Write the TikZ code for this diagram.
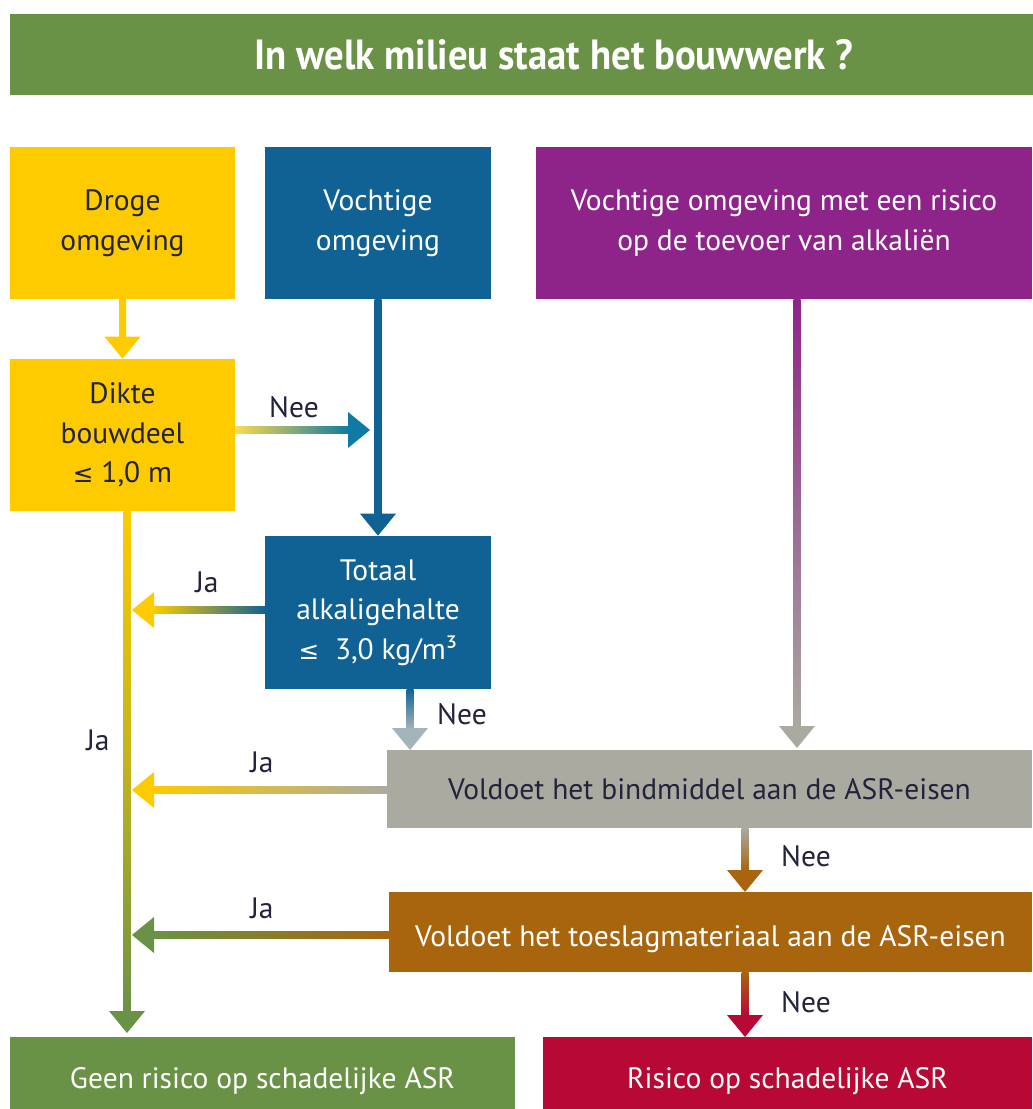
\documentclass[tikz,border=0pt]{standalone}
\usepackage{fontspec}
\setmainfont{PT Sans}
\newfontfamily\symfont{DejaVu Sans}
\usetikzlibrary{positioning,calc}
\definecolor{asrGreen}{RGB}{106,146,70}
\definecolor{asrYellow}{RGB}{253,203,0}
\definecolor{asrBlue}{RGB}{17,98,148}
\definecolor{asrPurple}{RGB}{142,36,138}
\definecolor{asrGrey}{RGB}{170,170,160}
\definecolor{asrBrown}{RGB}{168,101,14}
\definecolor{asrRed}{RGB}{183,9,52}
\definecolor{asrInk}{RGB}{35,35,60}

\tikzset{
  box/.style={inner sep=0pt, align=center, text=white, font=\fontsize{16.8}{22.5}\selectfont},
  lbl/.style={text=asrInk, font=\fontsize{16.8}{22.5}\selectfont}
}
% shaded arrows: shaft + head
\newcommand{\downarrowg}[4]{%
  \shade[top color=#3, bottom color=#4] ($(#1)+(-3.5,0)$) rectangle ($(#2)+(3.5,-21)$);
  \fill[#4] (#2) -- ++(-18,-22) -- ++(36,0) -- cycle;}
\newcommand{\rightarrowg}[4]{%
  \shade[left color=#3, right color=#4] ($(#1)+(0,-3.5)$) rectangle ($(#2)+(-21,3.5)$);
  \fill[#4] (#2) -- ++(-22,-18) -- ++(0,36) -- cycle;}
\newcommand{\leftarrowg}[4]{%
  \shade[left color=#4, right color=#3] ($(#2)+(21,-3.5)$) rectangle ($(#1)+(0,3.5)$);
  \fill[#4] (#2) -- ++(22,-18) -- ++(0,36) -- cycle;}
\newcommand{\maxle}{{\symfont\fontsize{14}{20}\selectfont ≤}}

\begin{document}
\begin{tikzpicture}[x=0.02cm, y=-0.02cm]
  \useasboundingbox (0,0) rectangle (1032,1109);

  % Title (bar runs off the right edge)
  \node[box, fill=asrGreen, minimum width=21.76cm, minimum height=1.62cm,
        font=\bfseries\fontsize{24}{28}\selectfont] (title) at (554,54.5)
        {\scalebox{0.92}[1]{In welk milieu staat het bouwwerk ?}};

  % Environments
  \node[box, fill=asrYellow, text=asrInk, minimum width=4.5cm, minimum height=3.04cm] (droge) at (122.5,223) {Droge\\omgeving};
  \node[box, fill=asrBlue, minimum width=4.52cm, minimum height=3.04cm] (vocht) at (378,223) {Vochtige\\omgeving};
  \node[box, fill=asrPurple, minimum width=9.92cm, minimum height=3.04cm] (alkali) at (784,223) {Vochtige omgeving met een risico\\op de toevoer van alkaliën};

  % Questions
  \node[box, fill=asrYellow, text=asrInk, minimum width=4.5cm, minimum height=3.04cm] (dikte) at (122.5,435) {Dikte\\bouwdeel\\\maxle\ 1,0 m};
  \node[box, fill=asrBlue, minimum width=4.52cm, minimum height=3.06cm] (totaal) at (378,612.5) {Totaal\\alkaligehalte\\\maxle~ 3,0 kg/m³};
  \node[box, fill=asrGrey, text=asrInk, minimum width=12.9cm, minimum height=1.56cm] (bind) at (709.5,789) {Voldoet het bindmiddel aan de ASR-eisen};
  \node[box, fill=asrBrown, minimum width=12.86cm, minimum height=1.6cm] (toeslag) at (710.5,932) {\rule{0pt}{20pt}Voldoet het toeslagmateriaal aan de ASR-eisen};

  % Outcomes
  \node[box, fill=asrGreen, minimum width=10.1cm, minimum height=1.44cm] (geen) at (262.5,1073) {\rule{0pt}{21pt}Geen risico op schadelijke ASR};
  \node[box, fill=asrRed, minimum width=9.78cm, minimum height=1.44cm] (risico) at (787.5,1073) {\rule{0pt}{21pt}Risico op schadelijke ASR};

  % Connector end points
  \coordinate (dikteTop) at (droge.south |- dikte.north);
  \coordinate (neeOut) at (235,430);
  \coordinate (neeIn) at (370,430);
  \coordinate (jaOutA) at (265,610);
  \coordinate (jaInA) at (132,610);
  \coordinate (totOut) at (410,689);
  \coordinate (totIn) at (410,750);
  \coordinate (alkOut) at (797,299);
  \coordinate (alkIn) at (797,748);
  \coordinate (jaOutB) at (387,790);
  \coordinate (jaInB) at (132,790);
  \coordinate (bindOut) at (745,828);
  \coordinate (bindIn) at (745,892);
  \coordinate (jaOutC) at (389,935);
  \coordinate (jaInC) at (132,935);
  \coordinate (toesOut) at (745,972);
  \coordinate (toesIn) at (745,1037);
  \coordinate (dikOut) at (127,511);
  \coordinate (dikIn) at (127,1033);

  % Main trunk (yellow to green)
  \shade[top color=asrYellow, bottom color=asrGreen, middle color=asrYellow!60!asrGreen]
    ($(dikOut)+(-3.5,0)$) rectangle ($(dikIn)+(3.5,-21)$);
  \fill[asrGreen] (dikIn) -- ++(-18,-22) -- ++(36,0) -- cycle;

  % Connectors
  \downarrowg{droge.south}{dikteTop}{asrYellow}{asrYellow}
  \rightarrowg{neeOut}{neeIn}{asrYellow!70}{asrBlue!85!cyan}
  \downarrowg{vocht.south}{totaal.north}{asrBlue}{asrBlue}
  \leftarrowg{jaOutA}{jaInA}{asrBlue}{asrYellow}
  \downarrowg{totOut}{totIn}{asrBlue}{asrGrey!70!asrBlue!70}
  \downarrowg{alkOut}{alkIn}{asrPurple}{asrGrey}
  \leftarrowg{jaOutB}{jaInB}{asrGrey}{asrYellow}
  \downarrowg{bindOut}{bindIn}{asrGrey}{asrBrown}
  \leftarrowg{jaOutC}{jaInC}{asrBrown}{asrGreen}
  \downarrowg{toesOut}{toesIn}{asrBrown}{asrRed}

  % Labels
  \node[lbl] (lNeeA) at (294,407) {Nee};
  \node[lbl] (lJaA) at (207,582) {Ja};
  \node[lbl] (lNeeB) at (462,714) {Nee};
  \node[lbl] (lJaB) at (98,740) {Ja};
  \node[lbl] (lJaC) at (262,762) {Ja};
  \node[lbl] (lNeeC) at (806,856) {Nee};
  \node[lbl] (lJaD) at (262,908) {Ja};
  \node[lbl] (lNeeD) at (806,1002) {Nee};
\end{tikzpicture}
\end{document}
